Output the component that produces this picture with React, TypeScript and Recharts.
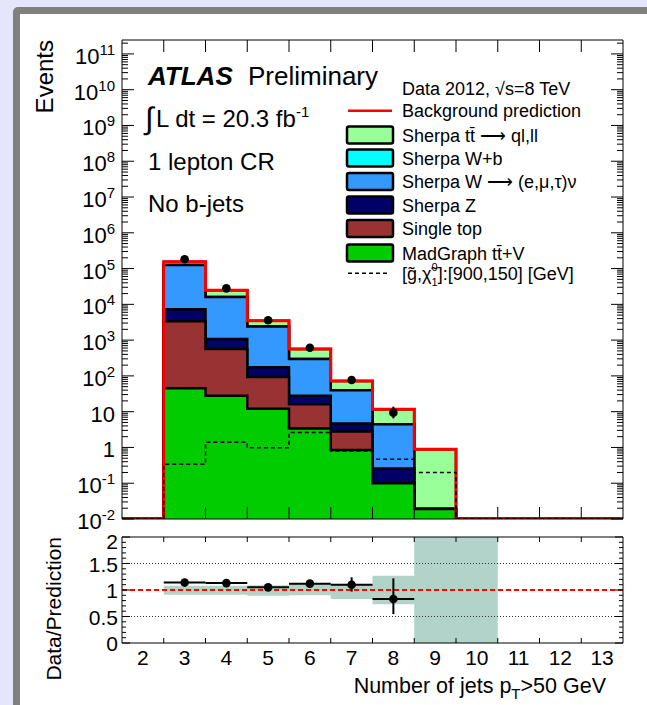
import React from 'react';
import { ComposedChart, Area, Line, Scatter, ErrorBar, XAxis, YAxis, ReferenceLine } from 'recharts';

// jet multiplicity bins (centres) and their edges
const jetBins = [2, 3, 4, 5, 6, 7, 8, 9, 10, 11, 12, 13];
const binEdges = [1.5, 2.5, 3.5, 4.5, 5.5, 6.5, 7.5, 8.5, 9.5, 10.5, 11.5, 12.5, 13.5];
const innerEdges = [2.5, 3.5, 4.5, 5.5, 6.5, 7.5, 8.5, 9.5, 10.5, 11.5, 12.5];
const xTickLabels = ['2', '3', '4', '5', '6', '7', '8', '9', '10', '11', '12', '13'];

// backgrounds, events per bin, bottom of the stack first
const madgraphTTV = [0, 45, 28, 12, 3.4, 0.85, 0.1, 0.019, 0, 0, 0, 0];
const singleTop = [0, 3350, 540, 81, 12.6, 1.95, 0, 0, 0, 0, 0, 0];
const sherpaZ = [0, 3900, 500, 81, 12, 1.9, 0.16, 0, 0, 0, 0, 0];
const sherpaW = [0, 119000, 14900, 2230, 269, 35, 4.2, 0, 0, 0, 0, 0];
const sherpaWb = [0, 0, 0, 0, 0, 0, 0, 0, 0, 0, 0, 0];
const sherpaTT = [0, 30000, 9000, 1100, 270, 32, 7.2, 0.87, 0, 0, 0, 0];

// signal point [900,150]
const signalEvents = [0, 0.34, 1.39, 0.98, 2.6, 0.8, 0.47, 0.2, 0, 0, 0, 0];

// data
const dataEvents = [null, 182000, 28000, 3600, 610, 77, 9.4, null, null, null, null, null];
const dataErrUp = [null, 430, 170, 60, 25, 9, 4.4, null, null, null, null, null];
const dataErrDown = [null, 430, 170, 60, 25, 9, 2.9, null, null, null, null, null];

// ratio panel
const ratioValues = [null, 1.14, 1.13, 1.05, 1.12, 1.1, 0.83, null, null, null, null, null];
const ratioErrUp = [null, 0.01, 0.01, 0.02, 0.04, 0.14, 0.39, null, null, null, null, null];
const ratioErrDown = [null, 0.01, 0.01, 0.02, 0.04, 0.13, 0.285, null, null, null, null, null];
const bandLow = [null, 0.91, 0.91, 0.89, 0.9, 0.83, 0.73, 0, 0, null, null, null];
const bandHigh = [null, 1.08, 1.08, 1.09, 1.115, 1.11, 1.27, 2, 2, null, null, null];

const FONT = '"Liberation Sans", Arial, Helvetica, sans-serif';
const W = 647;
const H = 705;
const LEFT = 122;
const RIGHT = 623;
const MAIN_TOP = 40;
const MAIN_BOTTOM = 519;
const RATIO_TOP = 537;
const RATIO_BOTTOM = 643;
const Y_MIN = 0.01;
const Y_MAX = 2.45e11;
// room given to the axes themselves (ticks are drawn inwards by hand)
const AX = 10;

const stackOrder = [madgraphTTV, singleTop, sherpaZ, sherpaW, sherpaWb, sherpaTT];
const cumulative = stackOrder.map((_, level) =>
  jetBins.map((__, b) => stackOrder.slice(0, level + 1).reduce((s, arr) => s + arr[b], 0))
);
const totalBkg = cumulative[cumulative.length - 1];

// value of a step at edge i; the last edge closes the previous bin
function stepValue<T>(arr: (T | null)[], i: number): T | null {
  if (i < arr.length && arr[i] != null) return arr[i];
  if (i > 0 && arr[i - 1] != null) return arr[i - 1];
  return null;
}
const floorLog = (v: number) => Math.max(v, Y_MIN);

const mainRows = binEdges.map((x, i) => {
  const row: any = { x };
  cumulative.forEach((c, level) => {
    row['s' + level] = floorLog(stepValue(c, i) as number);
  });
  row.total = floorLog(stepValue(totalBkg, i) as number);
  row.signal = floorLog(stepValue(signalEvents, i) as number);
  return row;
});

const dataPoints = jetBins
  .map((x, b) => (dataEvents[b] == null ? null : { x, y: dataEvents[b], err: [dataErrDown[b], dataErrUp[b]] }))
  .filter(Boolean);

const ratioRows = binEdges.map((x, i) => {
  const lo = stepValue(bandLow, i);
  const hi = stepValue(bandHigh, i);
  return { x, band: lo == null || hi == null ? null : [lo, hi] };
});

const ratioPoints = jetBins
  .map((x, b) =>
    ratioValues[b] == null
      ? null
      : { x, y: ratioValues[b], err: [ratioErrDown[b], ratioErrUp[b]], xerr: 0.5 }
  )
  .filter(Boolean);

const mainYTicks: number[] = [];
for (let e = -2; e <= 11; e++) {
  for (let k = 1; k <= 9; k++) {
    const v = k * Math.pow(10, e);
    if (v <= Y_MAX) mainYTicks.push(v);
  }
}
const ratioYTicks = Array.from({ length: 21 }, (_, i) => i / 10);
const ratioXTicks = [...innerEdges, ...jetBins].sort((a, b) => a - b);

const stackStyles = [
  { key: 's5', fill: '#99ff99' },
  { key: 's4', fill: '#00ffff' },
  { key: 's3', fill: '#3399ff' },
  { key: 's2', fill: '#000066' },
  { key: 's1', fill: '#993333' },
  { key: 's0', fill: '#00cc00' },
];

function isDecade(v: number) {
  const l = Math.log10(v);
  return Math.abs(l - Math.round(l)) < 1e-6;
}

function MainLeftTick(props: any) {
  const { y, payload } = props;
  const v = payload.value as number;
  const major = isDecade(v);
  const e = Math.round(Math.log10(v));
  return (
    <g>
      <line x1={LEFT} x2={LEFT + (major ? 12 : 6)} y1={y} y2={y} stroke="#000" strokeWidth={1} />
      {major && (
        <text x={LEFT - 7} y={y + 10} textAnchor="end" fontSize={22} fontFamily={FONT} fill="#000">
          {e === 0 ? '1' : e === 1 ? '10' : (
            <>
              10
              <tspan fontSize={15} dy={-9}>{e}</tspan>
            </>
          )}
        </text>
      )}
    </g>
  );
}

function MainRightTick(props: any) {
  const { y, payload } = props;
  const major = isDecade(payload.value);
  return <line x1={RIGHT} x2={RIGHT - (major ? 12 : 6)} y1={y} y2={y} stroke="#000" strokeWidth={1} />;
}

const edgeTick = (yAxis: number, len: number) => (props: any) => (
  <line x1={props.x} x2={props.x} y1={yAxis} y2={yAxis + len} stroke="#000" strokeWidth={1} />
);

// bottom axis of the ratio panel: tick marks at bin edges, labels at bin centres
function RatioBottomTick(props: any) {
  const { x, payload } = props;
  const v = payload.value as number;
  const idx = jetBins.indexOf(v);
  if (idx < 0) {
    return <line x1={x} x2={x} y1={RATIO_BOTTOM} y2={RATIO_BOTTOM - 5} stroke="#000" strokeWidth={1} />;
  }
  return (
    <text x={x} y={RATIO_BOTTOM + 22} textAnchor="middle" fontSize={21} fontFamily={FONT} fill="#000">
      {xTickLabels[idx]}
    </text>
  );
}

function RatioLeftTick(props: any) {
  const { y, payload } = props;
  const v = payload.value as number;
  const major = Math.abs(v * 2 - Math.round(v * 2)) < 1e-6;
  const label = Math.abs(v - Math.round(v)) < 1e-6 ? String(Math.round(v)) : v.toFixed(1);
  return (
    <g>
      <line x1={LEFT} x2={LEFT + (major ? 8 : 4)} y1={y} y2={y} stroke="#000" strokeWidth={1} />
      {major && (
        <text x={LEFT - 4} y={y + (v === 2 ? 12 : 8)} textAnchor="end" fontSize={21} fontFamily={FONT} fill="#000">
          {label}
        </text>
      )}
    </g>
  );
}

function RatioRightTick(props: any) {
  const { y, payload } = props;
  const v = payload.value as number;
  const major = Math.abs(v * 2 - Math.round(v * 2)) < 1e-6;
  return <line x1={RIGHT} x2={RIGHT - (major ? 8 : 4)} y1={y} y2={y} stroke="#000" strokeWidth={1} />;
}

const dot = (p: any) => <circle cx={p.cx} cy={p.cy} r={4.3} fill="#000" />;

const legendBoxes = [
  { label: 'Sherpa tt\u0304 \u27f6 ql,ll', fill: '#99ff99', y: 135 },
  { label: 'Sherpa W+b', fill: '#00ffff', y: 158 },
  { label: 'Sherpa W \u27f6 (e,\u03bc,\u03c4)\u03bd', fill: '#3399ff', y: 181.5 },
  { label: 'Sherpa Z', fill: '#000066', y: 205 },
  { label: 'Single top', fill: '#993333', y: 228.5 },
  { label: 'MadGraph tt\u0304+V', fill: '#00cc00', y: 253 },
];

function Overlay() {
  const t = { fontFamily: FONT, fill: '#000' } as any;
  return (
    <svg width={W} height={H} style={{ position: 'absolute', left: 0, top: 0, pointerEvents: 'none' }}>
      <text {...t} fontSize={24} transform={`translate(53,${MAIN_TOP}) rotate(-90)`} textAnchor="end">Events</text>
      <text {...t} fontSize={21} transform={`translate(61,${RATIO_TOP}) rotate(-90)`} textAnchor="end">Data/Prediction</text>
      <text {...t} x={606} y={693} fontSize={21.5} textAnchor="end">
        Number of jets p<tspan fontSize={15} dy={6}>T</tspan><tspan dy={-6}>&gt;50 GeV</tspan>
      </text>

      <text {...t} x={148} y={85} fontSize={26} fontWeight="bold" fontStyle="italic">ATLAS</text>
      <text {...t} x={248} y={85} fontSize={26}>Preliminary</text>
      <text {...t} x={145} y={129} fontSize={31}>{'\u222b'}</text>
      <text {...t} x={156} y={127} fontSize={24}>
        L dt = 20.3 fb<tspan fontSize={15} dy={-10}>-1</tspan>
      </text>
      <text {...t} x={148} y={170} fontSize={24}>1 lepton CR</text>
      <text {...t} x={148} y={212} fontSize={24}>No b-jets</text>

      <text {...t} x={402} y={95} fontSize={18}>Data 2012, {'\u221a'}s=8 TeV</text>
      <line x1={348} x2={392} y1={110.7} y2={110.7} stroke="#ff0000" strokeWidth={2.5} />
      <text {...t} x={402} y={117} fontSize={18}>Background prediction</text>
      {legendBoxes.map((r) => (
        <g key={r.fill}>
          <rect x={347} y={r.y - 8.5} width={46} height={17} rx={2} fill={r.fill} stroke="#000" strokeWidth={2.5} />
          <text {...t} x={402} y={r.y + 6.7} fontSize={18}>{r.label}</text>
        </g>
      ))}
      <line x1={348} x2={390} y1={273.3} y2={273.3} stroke="#000" strokeWidth={1.5} strokeDasharray="4 3" />
      <text {...t} x={402} y={280} fontSize={18}>
        [g{'\u0303'},{'\u03c7\u0303'}<tspan fontSize={11} dy={-9}>0</tspan>
        <tspan fontSize={11} dx={-6} dy={15}>1</tspan>
        <tspan dy={-6}>]:[900,150] [GeV]</tspan>
      </text>
    </svg>
  );
}

export default function App() {
  return (
    <div style={{ position: 'absolute', left: 0, top: 0, width: W, height: H, background: '#e6e6fa', overflow: 'hidden', fontFamily: FONT }}>
      <div style={{ position: 'absolute', left: 13, top: 7, width: W, height: H, background: '#808080', borderTopLeftRadius: 5 }} />
      <div style={{ position: 'absolute', left: 20, top: 14, width: W, height: H, background: '#ffffff' }} />

      <div style={{ position: 'absolute', left: 0, top: 0 }}>
        <ComposedChart width={W} height={H} data={mainRows}
          margin={{ top: MAIN_TOP - AX, right: W - RIGHT - AX, bottom: H - MAIN_BOTTOM - AX, left: LEFT - AX }}>
          <XAxis xAxisId="b" dataKey="x" type="number" domain={[1.5, 13.5]} allowDataOverflow
            ticks={innerEdges} interval={0} height={AX} tickSize={0}
            axisLine={{ stroke: '#000' }} tickLine={false} tick={edgeTick(MAIN_BOTTOM, -12)} />
          <XAxis xAxisId="t" orientation="top" dataKey="x" type="number" domain={[1.5, 13.5]} allowDataOverflow
            ticks={innerEdges} interval={0} height={AX} tickSize={0}
            axisLine={{ stroke: '#000' }} tickLine={false} tick={edgeTick(MAIN_TOP, 12)} />
          <YAxis yAxisId="l" scale="log" domain={[Y_MIN, Y_MAX]} allowDataOverflow ticks={mainYTicks}
            interval={0} width={AX} tickSize={0} axisLine={{ stroke: '#000' }} tickLine={false} tick={MainLeftTick} />
          <YAxis yAxisId="r" orientation="right" scale="log" domain={[Y_MIN, Y_MAX]} allowDataOverflow ticks={mainYTicks}
            interval={0} width={AX} tickSize={0} axisLine={{ stroke: '#000' }} tickLine={false} tick={MainRightTick} />

          {stackStyles.map((s) => (
            <Area key={s.key} xAxisId="b" yAxisId="l" dataKey={s.key} type="stepAfter" baseValue={Y_MIN}
              fill={s.fill} fillOpacity={1} stroke="#000" strokeWidth={2.5} isAnimationActive={false} />
          ))}
          <Line xAxisId="b" yAxisId="l" dataKey="total" type="stepAfter" stroke="#ff0000" strokeWidth={3}
            dot={false} isAnimationActive={false} />
          <Line xAxisId="b" yAxisId="l" dataKey="signal" type="stepAfter" stroke="#000" strokeWidth={1.5}
            strokeDasharray="4 3" dot={false} isAnimationActive={false} />
          <Scatter xAxisId="b" yAxisId="l" data={dataPoints as any[]} dataKey="y" shape={dot} isAnimationActive={false}>
            <ErrorBar dataKey="err" direction="y" width={0} stroke="#000" strokeWidth={2} />
          </Scatter>
        </ComposedChart>
      </div>

      <div style={{ position: 'absolute', left: 0, top: 0 }}>
        <ComposedChart width={W} height={H} data={ratioRows}
          margin={{ top: RATIO_TOP - AX, right: W - RIGHT - AX, bottom: H - RATIO_BOTTOM - AX, left: LEFT - AX }}>
          <XAxis xAxisId="b" dataKey="x" type="number" domain={[1.5, 13.5]} allowDataOverflow
            ticks={ratioXTicks} interval={0} height={AX} tickSize={0}
            axisLine={{ stroke: '#000' }} tickLine={false} tick={RatioBottomTick} />
          <XAxis xAxisId="t" orientation="top" dataKey="x" type="number" domain={[1.5, 13.5]} allowDataOverflow
            ticks={innerEdges} interval={0} height={AX} tickSize={0}
            axisLine={{ stroke: '#000' }} tickLine={false} tick={edgeTick(RATIO_TOP, 5)} />
          <YAxis yAxisId="l" type="number" domain={[0, 2]} allowDataOverflow ticks={ratioYTicks}
            interval={0} width={AX} tickSize={0} axisLine={{ stroke: '#000' }} tickLine={false} tick={RatioLeftTick} />
          <YAxis yAxisId="r" orientation="right" type="number" domain={[0, 2]} allowDataOverflow ticks={ratioYTicks}
            interval={0} width={AX} tickSize={0} axisLine={{ stroke: '#000' }} tickLine={false} tick={RatioRightTick} />

          <Area xAxisId="b" yAxisId="l" dataKey="band" type="stepAfter" fill="#b2d3c9" fillOpacity={1}
            stroke="none" isAnimationActive={false} />
          <ReferenceLine xAxisId="b" yAxisId="l" y={1.5} stroke="#333" strokeDasharray="1 2" strokeWidth={1} />
          <ReferenceLine xAxisId="b" yAxisId="l" y={0.5} stroke="#333" strokeDasharray="1 2" strokeWidth={1} />
          <ReferenceLine xAxisId="b" yAxisId="l" y={1} stroke="#ff0000" strokeDasharray="5 3" strokeWidth={2} />
          <Scatter xAxisId="b" yAxisId="l" data={ratioPoints as any[]} dataKey="y" shape={dot} isAnimationActive={false}>
            <ErrorBar dataKey="err" direction="y" width={0} stroke="#000" strokeWidth={2} />
            <ErrorBar dataKey="xerr" direction="x" width={0} stroke="#000" strokeWidth={2} />
          </Scatter>
        </ComposedChart>
      </div>

      <Overlay />
    </div>
  );
}
